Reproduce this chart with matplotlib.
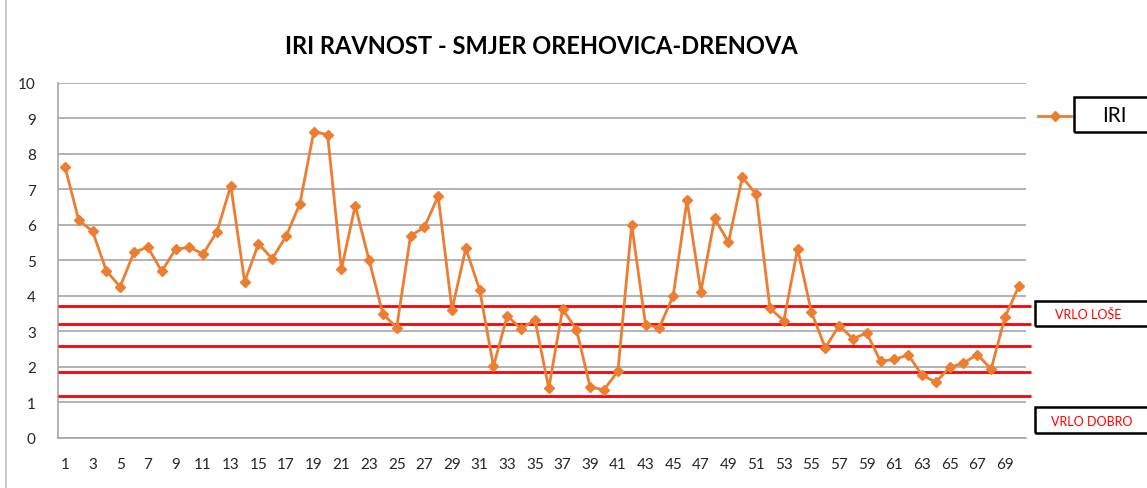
import matplotlib.pyplot as plt
import matplotlib.patches as mpatches
from matplotlib.lines import Line2D

plt.rcParams['font.family'] = ['Lato', 'DejaVu Sans']

W, H = 1147, 489

# IRI values per section (1..70)
stations = list(range(1, 71))
iri = [7.64, 6.13, 5.82, 4.70, 4.26, 5.23, 5.37, 4.69, 5.31, 5.37,
       5.18, 5.81, 7.10, 4.40, 5.46, 5.05, 5.68, 6.60, 8.62, 8.54,
       4.75, 6.54, 5.01, 3.49, 3.11, 5.69, 5.93, 6.81, 3.61, 5.34,
       4.17, 2.02, 3.44, 3.07, 3.33, 1.40, 3.63, 3.05, 1.43, 1.36,
       1.88, 6.00, 3.19, 3.11, 4.00, 6.69, 4.12, 6.18, 5.51, 7.34,
       6.86, 3.65, 3.30, 5.32, 3.54, 2.54, 3.16, 2.80, 2.95, 2.16,
       2.21, 2.34, 1.77, 1.57, 1.99, 2.11, 2.35, 1.94, 3.40, 4.27]

# class limits (red lines)
limits = [3.72, 3.21, 2.58, 1.87, 1.17]

xticks = list(range(1, 70, 2))
yticks = list(range(0, 11))

ORANGE = '#ED7D31'
GRID = '#a6a6a6'

fig = plt.figure(figsize=(W / 100, H / 100), dpi=100)
ax = fig.add_axes([58 / W, 1 - 439 / H, (1025.7 - 58) / W, (439 - 83.7) / H])

ax.set_xlim(0.5, 70.5)
ax.set_ylim(0, 10)
ax.set_yticks(yticks)
ax.set_xticks(xticks)
ax.set_xticklabels([str(t) for t in xticks], fontsize=11)
ax.set_yticklabels([str(t) for t in yticks], fontsize=11)
ax.tick_params(length=0, labelcolor='#262626')
ax.tick_params(axis='y', pad=16)
ax.tick_params(axis='x', pad=14)
ax.yaxis.grid(True, color=GRID, lw=1.2)
ax.set_axisbelow(True)
for s in ['top', 'right']:
    ax.spines[s].set_visible(False)
for s in ['left', 'bottom']:
    ax.spines[s].set_color(GRID)
    ax.spines[s].set_linewidth(1.2)

for v in limits:
    ax.hlines(v, 0.5, 70.85, color='#FF0000', lw=2, clip_on=False, zorder=3)

ax.plot(stations, iri, color=ORANGE, lw=2, marker='D', markersize=5.5, zorder=4)

fig.text(541 / W, 1 - 46 / H, 'IRI RAVNOST - SMJER OREHOVICA-DRENOVA',
         fontsize=17, fontweight='bold', ha='center', va='center')

# legend
fig.add_artist(Line2D([1038 / W, 1071 / W], [1 - 117 / H, 1 - 117 / H],
                      color=ORANGE, lw=2))
fig.add_artist(Line2D([1054.5 / W], [1 - 117 / H], color=ORANGE,
                      marker='D', markersize=5.5, lw=0))


def box(x0, y0, y1):
    fig.add_artist(mpatches.Rectangle((x0 / W, 1 - y1 / H), (W + 20 - x0) / W,
                                      (y1 - y0) / H, fill=False,
                                      edgecolor='black', lw=1.8))


box(1074, 98, 133)
fig.text(1114 / W, 1 - 116 / H, 'IRI', fontsize=15, ha='center', va='center')
box(1035, 302, 327)
fig.text(1088 / W, 1 - 315 / H, 'VRLO LOŠE', fontsize=9, color='#FF0000',
         ha='center', va='center')
box(1035, 408, 434)
fig.text(1092 / W, 1 - 422 / H, 'VRLO DOBRO', fontsize=9, color='#FF0000',
         ha='center', va='center')

# outer chart border on the left
fig.add_artist(Line2D([6 / W, 6 / W], [0, 1], color='#bfbfbf', lw=1.2))

fig.savefig('out.png', dpi=100)
